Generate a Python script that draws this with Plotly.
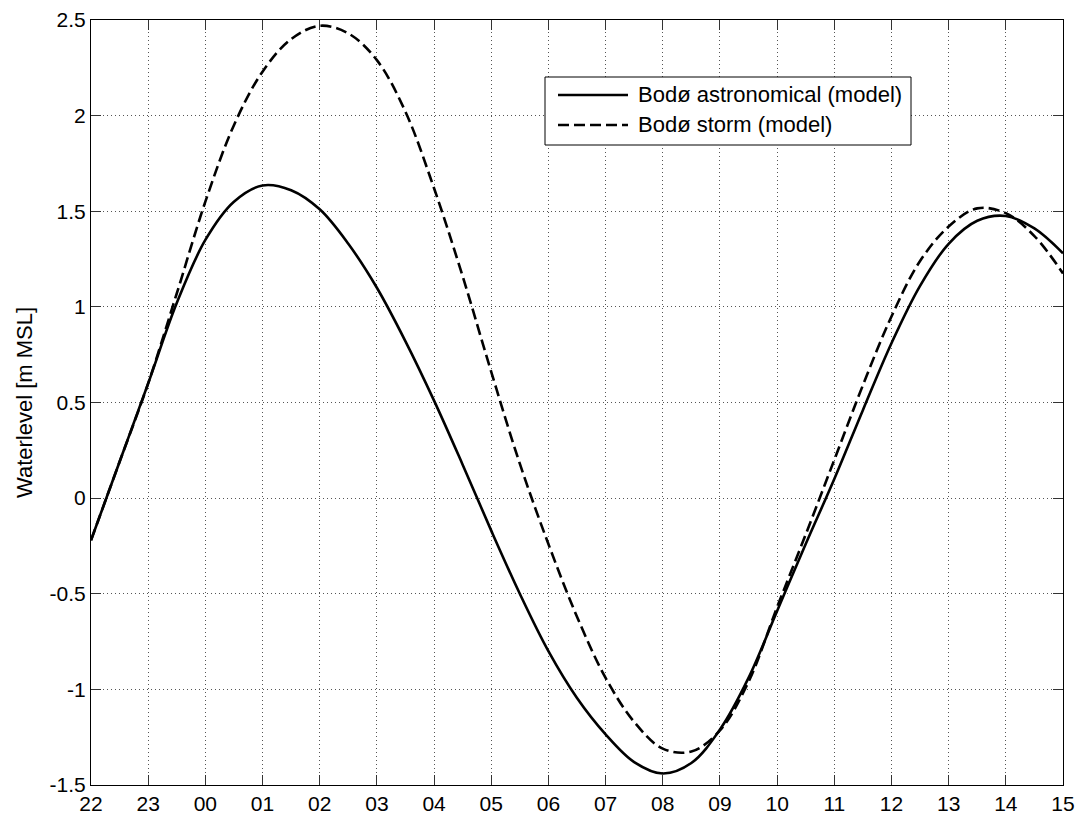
import plotly.graph_objects as go

# Time axis: hours after 22:00 on the first day, half-hourly samples
t_hours = [0.0, 0.5, 1.0, 1.5, 2.0, 2.5, 3.0, 3.5, 4.0, 4.5,
           5.0, 5.5, 6.0, 6.5, 7.0, 7.5, 8.0, 8.5, 9.0, 9.5,
           10.0, 10.5, 11.0, 11.5, 12.0, 12.5, 13.0, 13.5, 14.0, 14.5,
           15.0, 15.5, 16.0, 16.5, 17.0]

# Modelled water level at Bodø [m MSL]
astronomical = [-0.22, 0.19, 0.60, 1.02, 1.35, 1.55, 1.635, 1.61, 1.51, 1.33,
                1.10, 0.82, 0.51, 0.175, -0.17, -0.50, -0.80, -1.045, -1.235, -1.38,
                -1.44, -1.385, -1.21, -0.94, -0.59, -0.24, 0.10, 0.46, 0.81, 1.11,
                1.33, 1.45, 1.475, 1.41, 1.28]

storm = [-0.22, 0.19, 0.60, 1.07, 1.55, 1.95, 2.23, 2.40, 2.47, 2.43,
         2.29, 2.02, 1.62, 1.16, 0.66, 0.18, -0.24, -0.62, -0.94, -1.17,
         -1.31, -1.325, -1.215, -0.96, -0.57, -0.19, 0.20, 0.59, 0.95, 1.24,
         1.42, 1.515, 1.49, 1.37, 1.175]

series_names = ["Bodø astronomical (model)", "Bodø storm (model)"]

x_tick_vals = [0, 1, 2, 3, 4, 5, 6, 7, 8, 9, 10, 11, 12, 13, 14, 15, 16, 17]
x_tick_labels = ["22", "23", "00", "01", "02", "03", "04", "05", "06",
                 "07", "08", "09", "10", "11", "12", "13", "14", "15"]
y_tick_vals = [-1.5, -1, -0.5, 0, 0.5, 1, 1.5, 2, 2.5]
y_tick_labels = ["-1.5", "-1", "-0.5", "0", "0.5", "1", "1.5", "2", "2.5"]

FONT = "Liberation Sans, Arial, Helvetica, sans-serif"
DASH = "11px,5px"
LW = 2.6

fig = go.Figure()
fig.add_trace(go.Scatter(
    x=t_hours, y=astronomical, mode="lines", name=series_names[0],
    line=dict(color="black", width=LW, shape="spline"),
))
fig.add_trace(go.Scatter(
    x=t_hours, y=storm, mode="lines", name=series_names[1],
    line=dict(color="black", width=LW, shape="spline", dash=DASH),
))

# Plot-area geometry (pixels) used to place the boxed legend
W, H = 1076, 817
ML, MR, MT, MB = 91, 13, 20, 32
PW, PH = W - ML - MR, H - MT - MB


def px(xp):
    return (xp - ML) / PW


def py(yp):
    return (H - MB - yp) / PH


# Legend box with line samples and labels
fig.add_shape(type="rect", xref="paper", yref="paper",
              x0=px(545), x1=px(911), y0=py(145), y1=py(77),
              line=dict(color="black", width=1), fillcolor="white", layer="above")
legend_rows = [95, 125]
for name, row, dash in zip(series_names, legend_rows, ["solid", DASH]):
    fig.add_shape(type="line", xref="paper", yref="paper",
                  x0=px(558), x1=px(628), y0=py(row), y1=py(row),
                  line=dict(color="black", width=LW, dash=dash), layer="above")
    fig.add_annotation(text=name, xref="paper", yref="paper",
                       x=px(636), y=py(row), xanchor="left", yanchor="middle",
                       showarrow=False, font=dict(family=FONT, size=22, color="black"))

axis_common = dict(
    showline=True, linecolor="black", linewidth=1, mirror="ticks",
    ticks="inside", ticklen=10, tickwidth=1, tickcolor="#333",
    showgrid=True, gridcolor="#555", gridwidth=1, griddash="1px,3px",
    zeroline=False, tickfont=dict(family=FONT, size=21, color="black"),
    automargin=False,
)

fig.update_layout(
    width=W, height=H,
    margin=dict(l=ML, r=MR, t=MT, b=MB),
    paper_bgcolor="white", plot_bgcolor="white",
    showlegend=False,
    font=dict(family=FONT, color="black"),
    xaxis=dict(range=[0, 17], tickmode="array", tickvals=x_tick_vals,
               ticktext=x_tick_labels, **axis_common),
    yaxis=dict(range=[-1.5, 2.5], tickmode="array", tickvals=y_tick_vals,
               ticktext=y_tick_labels,
               title=dict(text="Waterlevel [m MSL]", standoff=10,
                          font=dict(family=FONT, size=22, color="black")),
               **axis_common),
)

fig.write_html("out.html")
